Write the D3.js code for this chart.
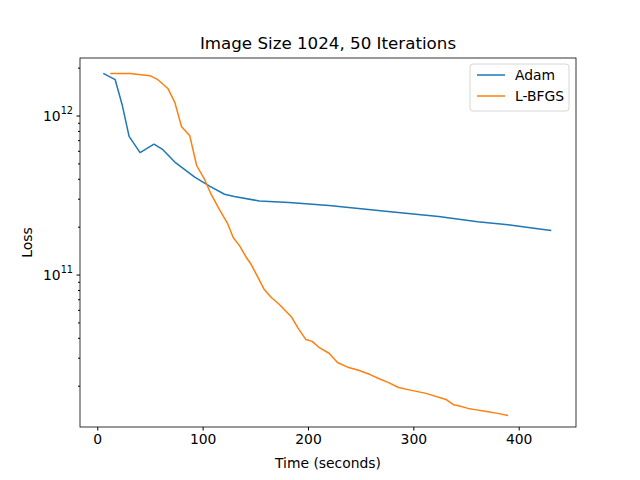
<!DOCTYPE html>
<html><head><meta charset="utf-8">
<script src="https://cdn.jsdelivr.net/npm/d3@7"></script>
<style>body{margin:0;background:#fff}text{font-family:"DejaVu Sans",sans-serif}</style>
</head><body><svg id="svg" width="640" height="480"></svg>
<script>
var adamTime = [5.7,17,23.6,30.2,40.6,53.8,62.3,73.6,92.5,106.6,120.8,130,154,182,220,276,324,361,390,418,431];
var adamLoss = [1.84e12,1.68e12,1.17e12,7.4e11,5.85e11,6.6e11,6.1e11,5.1e11,4.1e11,3.6e11,3.2e11,3.1e11,2.9e11,2.84e11,2.72e11,2.49e11,2.32e11,2.15e11,2.06e11,1.94e11,1.89e11];
var lbfgsTime = [12.3,31,50,57.5,67,73.6,80,87.7,94.3,102,108,116,123.6,129,135,141.5,146,154,158.5,165,172.6,184,190.6,198,204,210,220,228,238.7,248,259,267,276,286,295,312,331,338,342,352,357,371,380,390];
var lbfgsLoss = [1.84e12,1.84e12,1.78e12,1.68e12,1.48e12,1.21e12,8.5e11,7.5e11,4.85e11,3.95e11,3.2e11,2.56e11,2.1e11,1.71e11,1.52e11,1.28e11,1.16e11,9.2e10,8.05e10,7.2e10,6.5e10,5.45e10,4.6e10,3.9e10,3.8e10,3.5e10,3.2e10,2.8e10,2.6e10,2.5e10,2.35e10,2.22e10,2.1e10,1.95e10,1.89e10,1.79e10,1.64e10,1.52e10,1.5e10,1.44e10,1.42e10,1.37e10,1.34e10,1.3e10];
var xTicks = [0,100,200,300,400];
var series = [
  {name:'Adam', color:'#1f77b4', t:adamTime, l:adamLoss},
  {name:'L-BFGS', color:'#ff7f0e', t:lbfgsTime, l:lbfgsLoss}
];

var L=80,R=576,T=58,B=427;
var svg = d3.select('#svg');
var x = d3.scaleLinear().domain([-16.4,454.4]).range([L,R]);
var y = d3.scaleLog().domain([1.1e10,2.3e12]).range([B,T]);

// data lines
series.forEach(function(s){
  var line = d3.line().x(function(d,i){return x(s.t[i]);}).y(function(d,i){return y(s.l[i]);});
  svg.append('path').datum(s.t).attr('d',line)
    .attr('fill','none').attr('stroke',s.color).attr('stroke-width',1.5).attr('stroke-linejoin','round');
});

// axes
svg.append('g').attr('transform','translate(0,'+B+')')
  .call(d3.axisBottom(x).tickValues(xTicks).tickSize(3.5).tickPadding(4))
  .call(function(g){g.select('.domain').remove();g.selectAll('text').attr('font-size',13.9).attr('fill','#000').attr('font-family','DejaVu Sans');});

var minor=[];
[1e10,1e11,1e12].forEach(function(b){for(var k=2;k<=9;k++){var v=b*k;if(v>1.1e10&&v<2.3e12)minor.push(v);}});
svg.append('g').attr('transform','translate('+L+',0)')
  .call(d3.axisLeft(y).tickValues(minor).tickSize(2).tickFormat(''))
  .call(function(g){g.select('.domain').remove();});
var yl = svg.append('g').attr('transform','translate('+L+',0)')
  .call(d3.axisLeft(y).tickValues([1e11,1e12]).tickSize(3.5).tickFormat(''));
yl.select('.domain').remove();
[11,12].forEach(function(e){
  var t = svg.append('text').attr('x',L-7).attr('y',y(Math.pow(10,e))+5).attr('text-anchor','end').attr('font-size',13.9);
  t.append('tspan').text('10');
  t.append('tspan').attr('font-size',9.7).attr('dy',-7).text(e);
});

svg.append('rect').attr('x',L).attr('y',T).attr('width',R-L).attr('height',B-T).attr('fill','none').attr('stroke','#000').attr('stroke-width',0.8);

// titles
svg.append('text').attr('x',(L+R)/2).attr('y',T-9).attr('text-anchor','middle').attr('font-size',16.7).text('Image Size 1024, 50 Iterations');
svg.append('text').attr('x',(L+R)/2).attr('y',468).attr('text-anchor','middle').attr('font-size',13.9).text('Time (seconds)');
svg.append('text').attr('transform','translate(32,'+((T+B)/2)+') rotate(-90)').attr('text-anchor','middle').attr('font-size',13.9).text('Loss');

// legend
var lg = svg.append('g').attr('transform','translate(470,64)');
lg.append('rect').attr('width',99).attr('height',47).attr('rx',3).attr('fill','#fff').attr('stroke','#ccc').attr('stroke-width',0.8);
series.forEach(function(s,i){
  lg.append('line').attr('x1',7).attr('x2',35).attr('y1',11+i*21).attr('y2',11+i*21).attr('stroke',s.color).attr('stroke-width',1.5);
  lg.append('text').attr('x',45).attr('y',16+i*21).attr('font-size',13.9).text(s.name);
});
</script></body></html>
